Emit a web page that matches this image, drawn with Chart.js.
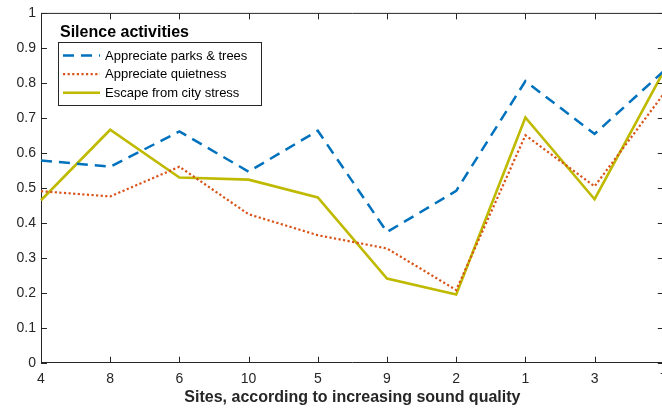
<!DOCTYPE html>
<html>
<head>
<meta charset="utf-8">
<script src="https://cdn.jsdelivr.net/npm/chart.js@4.4.0/dist/chart.umd.min.js"></script>
<style>
  html, body { margin: 0; padding: 0; background: #fff; overflow: hidden; }
  #wrap { width: 662px; height: 409px; overflow: hidden; }
  canvas { display: block; }
</style>
</head>
<body>
<div id="wrap">
  <canvas id="chart-1" width="700" height="409" style="width:700px;height:409px"></canvas>
</div>
<script>
// sites ordered by increasing sound quality
const sites = ["4", "8", "6", "10", "5", "9", "2", "1", "3", "7"];
const parksTrees = [0.579, 0.561, 0.662, 0.547, 0.664, 0.374, 0.492, 0.806, 0.655, 0.835];
const quietness  = [0.491, 0.476, 0.561, 0.425, 0.365, 0.327, 0.208, 0.651, 0.505, 0.770];
const cityStress = [0.465, 0.667, 0.530, 0.524, 0.473, 0.241, 0.195, 0.702, 0.468, 0.835];

const FONT = "'Liberation Sans', Arial, Helvetica, sans-serif";
const axisColor = "#262626";

// MATLAB-like box: top/right edges and inward ticks on all sides
const boxTicks = {
  id: "boxTicks",
  afterDatasetsDraw(chart) {
    const { ctx, chartArea: a, scales: { x, y } } = chart;
    const len = 6;
    ctx.save();
    ctx.strokeStyle = axisColor;
    ctx.lineWidth = 1;
    ctx.beginPath();
    ctx.moveTo(a.left, a.top);
    ctx.lineTo(a.right, a.top);
    ctx.lineTo(a.right, a.bottom);
    x.ticks.forEach((t, i) => {
      const px = Math.round(x.getPixelForTick(i)) + 0.5;
      ctx.moveTo(px, a.bottom);
      ctx.lineTo(px, a.bottom - len);
      ctx.moveTo(px, a.top);
      ctx.lineTo(px, a.top + len);
    });
    y.ticks.forEach((t, i) => {
      const py = Math.round(y.getPixelForTick(i)) + 0.5;
      ctx.moveTo(a.left, py);
      ctx.lineTo(a.left + len, py);
      ctx.moveTo(a.right, py);
      ctx.lineTo(a.right - len, py);
    });
    ctx.stroke();
    ctx.restore();
  }
};

// legend box with title, drawn inside the plot
const boxLegend = {
  id: "boxLegend",
  afterDraw(chart) {
    const ctx = chart.ctx;
    const bx = 58.5, by = 42.5, bw = 203, bh = 63;
    ctx.save();
    ctx.fillStyle = "#000";
    ctx.font = "bold 16px " + FONT;
    ctx.textBaseline = "alphabetic";
    ctx.fillText("Silence activities", 60, 36.5);

    ctx.fillStyle = "#fff";
    ctx.fillRect(bx, by, bw, bh);
    ctx.strokeStyle = axisColor;
    ctx.lineWidth = 1;
    ctx.strokeRect(bx, by, bw, bh);

    ctx.font = "13px " + FONT;
    chart.data.datasets.forEach((ds, i) => {
      const base = 59.5 + i * 18.6;
      const ly = base - 4;
      ctx.beginPath();
      ctx.strokeStyle = ds.borderColor;
      ctx.lineWidth = ds.borderWidth;
      ctx.setLineDash(ds.borderDash || []);
      ctx.moveTo(63, ly);
      ctx.lineTo(100, ly);
      ctx.stroke();
      ctx.setLineDash([]);
      ctx.fillStyle = "#000";
      ctx.fillText(ds.label, 105, base);
    });
    ctx.restore();
  }
};

const ctx1 = document.getElementById("chart-1").getContext("2d");
const myChart = new Chart(ctx1, {
  type: "line",
  data: {
    labels: sites,
    datasets: [
      {
        label: "Appreciate parks & trees",
        data: parksTrees,
        borderColor: "#0072BD",
        borderWidth: 2.5,
        borderDash: [11, 7],
        pointRadius: 0,
        fill: false,
      },
      {
        label: "Appreciate quietness",
        data: quietness,
        borderColor: "#D95319",
        borderWidth: 2.2,
        borderDash: [2.2, 2.4],
        pointRadius: 0,
        fill: false,
      },
      {
        label: "Escape from city stress",
        data: cityStress,
        borderColor: "#BFBA00",
        borderWidth: 2.6,
        pointRadius: 0,
        fill: false,
      },
    ],
  },
  options: {
    responsive: false,
    animation: false,
    devicePixelRatio: 1,
    layout: { padding: { top: 12.5, right: 36.2, left: 0, bottom: 0 } },
    plugins: {
      legend: { display: false },
      tooltip: { enabled: false },
    },
    scales: {
      x: {
        type: "category",
        offset: false,
        grid: { display: false, drawTicks: false },
        border: { display: true, color: axisColor, width: 1 },
        ticks: {
          color: axisColor,
          font: { family: FONT, size: 14 },
          padding: 8,
          maxRotation: 0,
          autoSkip: false,
        },
        title: {
          display: true,
          text: "Sites, according to increasing sound quality",
          color: axisColor,
          font: { family: FONT, size: 16, weight: "bold" },
          padding: { top: 2, bottom: 2 },
        },
        afterFit(scale) { scale.height = 46.3; },
      },
      y: {
        min: 0,
        max: 1,
        grid: { display: false, drawTicks: false },
        border: { display: true, color: axisColor, width: 1 },
        ticks: {
          stepSize: 0.1,
          color: axisColor,
          font: { family: FONT, size: 14 },
          padding: 5,
          callback: (v) => String(Number(v.toFixed(1))),
        },
        afterFit(scale) { scale.width = 41; },
      },
    },
  },
  plugins: [boxTicks, boxLegend],
});
</script>
</body>
</html>
